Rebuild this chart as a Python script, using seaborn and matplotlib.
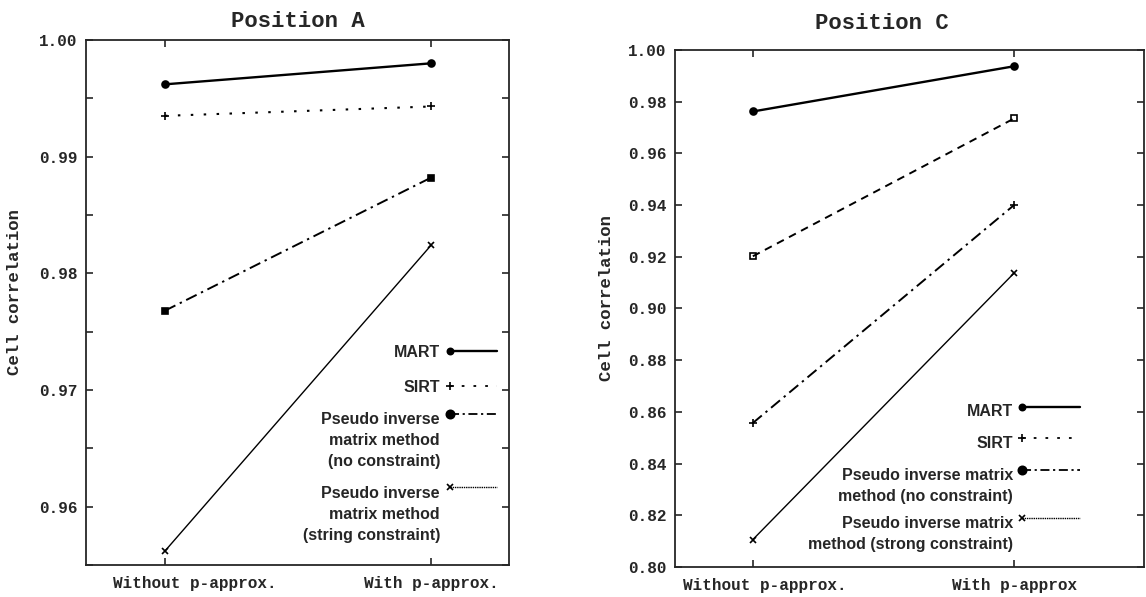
import matplotlib
matplotlib.use("Agg")
import matplotlib.pyplot as plt
from matplotlib.ticker import MultipleLocator, FormatStrFormatter
from matplotlib.transforms import ScaledTranslation
import seaborn as sns
import pandas as pd

# ---------------- data ----------------
cats_A = ["Without p-approx.", "With p-approx."]
cats_C = ["Without p-approx.", "With p-approx"]

a_mart = [0.9962, 0.9980]
a_sirt = [0.9935, 0.9943]
a_pinv_none = [0.9768, 0.9882]
a_pinv_strong = [0.9562, 0.9824]

c_mart = [0.9762, 0.9937]
c_sirt = [0.9202, 0.9735]
c_pinv_none = [0.8557, 0.9400]
c_pinv_strong = [0.8106, 0.9137]

labels_A = ["MART", "SIRT", "Pseudo inverse\nmatrix method\n(no constraint)",
            "Pseudo inverse\nmatrix method\n(string constraint)"]
labels_C = ["MART", "SIRT", "Pseudo inverse matrix\nmethod (no constraint)",
            "Pseudo inverse matrix\nmethod (strong constraint)"]

# ---------------- style ----------------
sns.set_style("ticks")
plt.rcParams["font.family"] = ["Liberation Mono", "DejaVu Sans Mono"]
plt.rcParams["font.weight"] = "bold"
plt.rcParams["axes.linewidth"] = 1.3

MONO = ["Liberation Mono", "DejaVu Sans Mono"]
SANS = ["Liberation Sans", "DejaVu Sans"]

fig = plt.figure(figsize=(11.46, 5.97), dpi=100)
axA = fig.add_axes([0.0750, 0.0536, 0.3691, 0.8794])
axC = fig.add_axes([0.5890, 0.0503, 0.4092, 0.8660])

# plot-line styles: (linestyle, linewidth, marker, markersize, mfc)
sty_A = [
    ("-", 1.7, "o", 5, "k"),
    ((0, (1.2, 5)), 1.5, "+", 6, "k"),
    ((0, (6, 2.5, 1.2, 2.5)), 1.4, "s", 5, "k"),
    ("-", 1.0, "x", 5, "k"),
]
sty_C = [
    ("-", 1.7, "o", 5, "k"),
    ((0, (4, 3)), 1.4, "s", 5, "none"),
    ((0, (6, 2.5, 1.2, 2.5)), 1.4, "+", 6, "k"),
    ("-", 1.0, "x", 5, "k"),
]
# legend-handle styles (as drawn in the legends)
leg_sty = [
    ("-", 1.7, "o", 4.5),
    ((0, (1.5, 5)), 1.3, "+", 6),
    ((0, (5, 2, 1.2, 2)), 1.3, "o", 6),
    ((0, (1, 0.6)), 1.0, "x", 4.5),
]


def draw_panel(ax, cats, series, styles, labels, title, title_x, title_pad,
               ylim, major, minor, ylabel_x, leg_text_x, leg_h_x0, leg_h_x1,
               leg_text_y, leg_handle_y, xlab_shift):
    for vals, (ls, lw, mk, ms, mfc) in zip(series, styles):
        df = pd.DataFrame({"cat": cats, "val": vals})
        sns.lineplot(data=df, x="cat", y="val", ax=ax, color="k", sort=False,
                     linestyle=ls, linewidth=lw, marker=mk, markersize=ms,
                     markerfacecolor=mfc, markeredgecolor="k",
                     markeredgewidth=1.2)
    ax.set_ylim(*ylim)
    ax.yaxis.set_major_locator(MultipleLocator(major))
    ax.yaxis.set_major_formatter(FormatStrFormatter("%.2f"))
    if minor:
        ax.yaxis.set_minor_locator(MultipleLocator(minor))
    ax.tick_params(axis="both", which="both", direction="in", top=True,
                   right=True, length=5, width=1.2)
    ax.tick_params(axis="y", which="major", pad=6)
    ax.tick_params(axis="x", which="major", pad=8)
    for t in ax.get_yticklabels() + ax.get_xticklabels():
        t.set_fontfamily(MONO)
        t.set_fontweight("bold")
        t.set_fontsize(11.5)
    # the first category label sits a little right of its tick in the original
    xl = ax.get_xticklabels()
    xl[0].set_transform(xl[0].get_transform() +
                        ScaledTranslation(xlab_shift / 100.0, 0,
                                          fig.dpi_scale_trans))
    ax.set_xlabel("")
    ax.set_ylabel("Cell correlation", fontfamily=MONO, fontweight="bold",
                  fontsize=12.5)
    ax.yaxis.set_label_coords(ylabel_x, 0.52)
    ax.set_title(title, fontfamily=MONO, fontweight="bold", fontsize=16,
                 x=title_x, pad=title_pad)
    # legend drawn at the lower right: text then handle
    for lab, ty, hy, (ls, lw, mk, ms) in zip(labels, leg_text_y, leg_handle_y,
                                             leg_sty):
        ax.text(leg_text_x, ty, lab, transform=ax.transAxes, ha="right",
                va="top", multialignment="right", fontfamily=SANS,
                fontweight="bold", fontsize=11.5, linespacing=1.5)
        ax.plot([leg_h_x0, leg_h_x1], [hy, hy], transform=ax.transAxes,
                color="k", linestyle=ls, linewidth=lw, marker=mk,
                markersize=ms, markevery=[0], markeredgewidth=1.2,
                clip_on=False)


draw_panel(axA, cats_A, [a_mart, a_sirt, a_pinv_none, a_pinv_strong], sty_A,
           labels_A, "Position A", 0.5, 9, (0.955, 1.0), 0.01, 0.005,
           -0.151, 0.837, 0.861, 0.972,
           [0.420, 0.353, 0.292, 0.151], [0.408, 0.341, 0.288, 0.149], 30)
axA.set_xlim(-0.297, 1.293)

draw_panel(axC, cats_C, [c_mart, c_sirt, c_pinv_none, c_pinv_strong], sty_C,
           labels_C, "Position C", 0.441, 15, (0.80, 1.0), 0.02, None,
           -0.130, 0.721, 0.740, 0.864,
           [0.316, 0.254, 0.192, 0.099], [0.309, 0.250, 0.188, 0.095], 12)
axC.set_xlim(-0.298, 1.497)

fig.savefig("out.png", dpi=100)
